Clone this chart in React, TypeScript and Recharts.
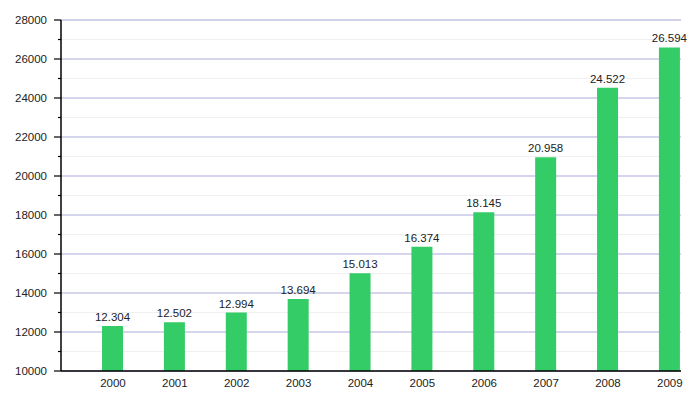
import { BarChart, Bar, XAxis, YAxis, CartesianGrid, LabelList } from "recharts";

const years = [2000, 2001, 2002, 2003, 2004, 2005, 2006, 2007, 2008, 2009];
const values = [12304, 12502, 12994, 13694, 15013, 16374, 18145, 20958, 24522, 26594];
const majorTicks = [10000, 12000, 14000, 16000, 18000, 20000, 22000, 24000, 26000, 28000];
const minorTicks = [11000, 13000, 15000, 17000, 19000, 21000, 23000, 25000, 27000];

const data = years.map((year, i) => ({ year, value: values[i] }));
const allTicks = [...majorTicks, ...minorTicks].sort((a, b) => a - b);

const FONT = "'Liberation Sans', Arial, Helvetica, sans-serif";

function fmt(v: number) {
  const s = String(v);
  return s.slice(0, s.length - 3) + "." + s.slice(s.length - 3);
}

// custom y tick: long tick + label on major values, short tick only on minor ones
function YTick(props: any) {
  const { x, y, payload } = props;
  const major = majorTicks.includes(payload.value);
  const axisX = x + 14;
  return (
    <g>
      <line x1={axisX - (major ? 7 : 3)} x2={axisX} y1={y} y2={y} stroke="#000" strokeWidth={1.2} />
      {major && (
        <text x={x} y={y} dy={4} textAnchor="end" fontSize={11.5} fill="#222" fontFamily={FONT}>
          {payload.value}
        </text>
      )}
    </g>
  );
}

export default function App() {
  return (
    <div style={{ position: "absolute", left: 0, top: 0, width: 700, height: 400, background: "#fff" }}>
      <BarChart width={700} height={400} data={data} margin={{ top: 20, right: 19, left: 0, bottom: 0 }}>
        <CartesianGrid vertical={false} stroke="#f0f0f0" yAxisId="minor" />
        <CartesianGrid vertical={false} stroke="#ababdc" yAxisId="major" />
        <XAxis
          dataKey="year"
          type="number"
          domain={[1999.16, 2009.18]}
          ticks={years}
          allowDataOverflow
          height={29}
          tickLine={false}
          axisLine={{ stroke: "#000", strokeWidth: 1.5 }}
          tick={{ fontSize: 11.5, fill: "#222", fontFamily: FONT }}
          tickMargin={2}
        />
        <YAxis yAxisId="minor" hide type="number" domain={[10000, 28000]} ticks={minorTicks} interval={0} allowDataOverflow />
        <YAxis yAxisId="major" hide type="number" domain={[10000, 28000]} ticks={majorTicks} interval={0} allowDataOverflow />
        <YAxis
          type="number"
          domain={[10000, 28000]}
          ticks={allTicks}
          interval={0}
          width={61}
          tickSize={8}
          tickMargin={6}
          tickLine={false}
          axisLine={{ stroke: "#000", strokeWidth: 1.5 }}
          tick={<YTick />}
          allowDataOverflow
        />
        <Bar dataKey="value" fill="#33cc66" barSize={21} isAnimationActive={false}>
          <LabelList
            dataKey="value"
            position="top"
            offset={5}
            formatter={(v: any) => fmt(Number(v))}
            style={{ fontSize: 11.5, fill: "#222", fontFamily: FONT }}
          />
        </Bar>
      </BarChart>
    </div>
  );
}
